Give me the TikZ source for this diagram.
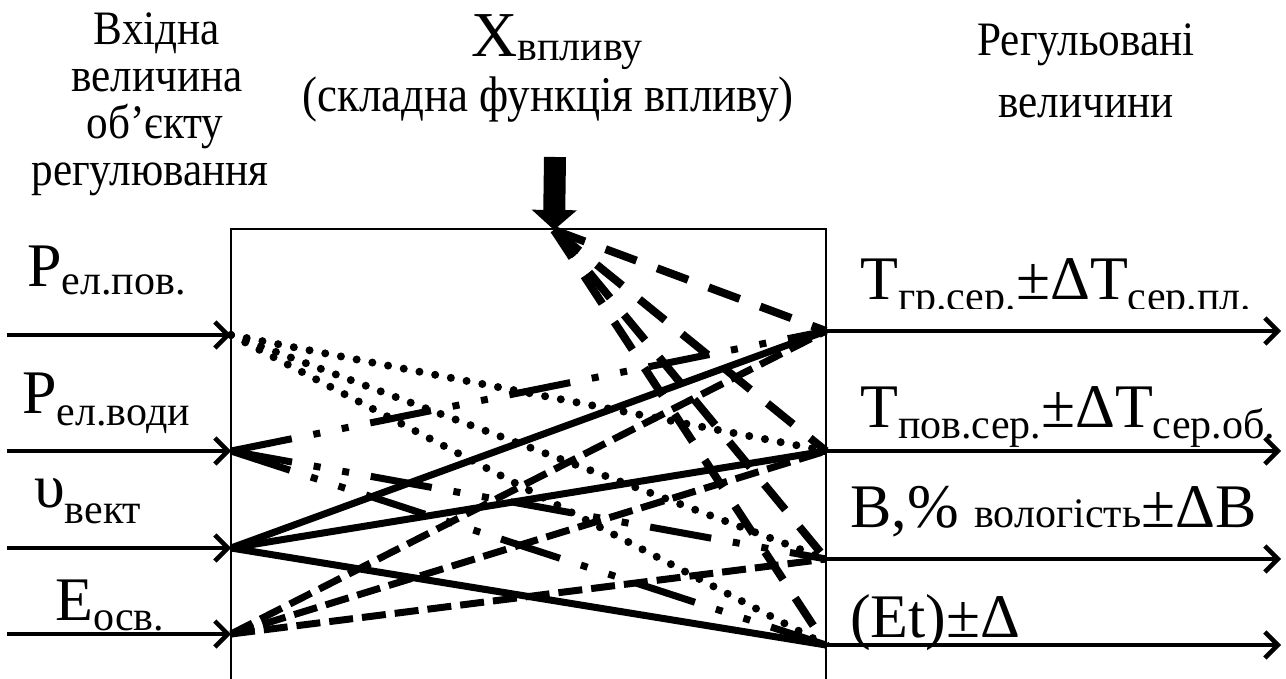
\documentclass[tikz,border=0pt]{standalone}
\usepackage{fontspec}
\setmainfont{Liberation Serif}
\newfontfamily\condf[FakeStretch=0.9]{Liberation Serif}
\usetikzlibrary{arrows.meta}
\newcommand\mybig{\fontsize{62}{62}\selectfont}
\newcommand\mysub{\fontsize{42}{42}\selectfont}
\newcommand\myhead{\condf\fontsize{48}{52}\selectfont}
\begin{document}
\begin{tikzpicture}[x=1pt,y=-1pt,
  boxl/.style={line width=2.5pt},
  ioarrow/.style={line width=4.5pt,-{Straight Barb[length=13pt,width=26pt,line width=4.5pt]}},
  bigarrow/.style={line width=22pt,-{Triangle[length=20pt,width=44pt]}},
  solidl/.style={line width=7pt},
  dotl/.style={line width=8pt,line cap=round,dash pattern=on 0pt off 16pt},
  dashl/.style={line width=7pt,dash pattern=on 24pt off 9pt},
  ldashl/.style={line width=8pt,dash pattern=on 33pt off 22pt},
  ddotl/.style={line width=7pt,dash pattern=on 62pt off 22pt on 7pt off 22pt on 7pt off 22pt},
  lbl/.style={inner sep=0pt,anchor=base west,font=\mybig},
  head/.style={inner sep=0pt,anchor=base,font=\myhead}]
\useasboundingbox (0,0) rectangle (1286,679);

% endpoints
\coordinate (i1) at (231,335);
\coordinate (i2) at (231,451);
\coordinate (i3) at (231,548);
\coordinate (i4) at (231,634);
\coordinate (o1) at (826,331);
\coordinate (o2) at (826,451);
\coordinate (o3) at (826,559);
\coordinate (o4) at (826,645);
\coordinate (s1) at (7,335);
\coordinate (s2) at (7,451);
\coordinate (s3) at (7,548);
\coordinate (s4) at (7,634);
\coordinate (e1) at (1281,331);
\coordinate (e2) at (1281,451);
\coordinate (e3) at (1281,559);
\coordinate (e4) at (1281,645);
\coordinate (xi) at (554,230);
\coordinate (xt) at (555,157);
\coordinate (bl) at (231,679);
\coordinate (btl) at (231,229);
\coordinate (btr) at (826,229);
\coordinate (br) at (826,679);

% object box (open at bottom)
\draw[boxl] (bl) -- (btl) -- (btr) -- (br);

% influence lines
\draw[dotl] (i1) -- (o2);
\draw[dotl] (i1) -- (o3);
\draw[dotl] (i1) -- (o4);
\draw[ddotl] (i2) -- (o1);
\draw[ddotl] (i2) -- (o3);
\draw[ddotl] (i2) -- (o4);
\draw[solidl] (i3) -- (o1);
\draw[solidl] (i3) -- (o2);
\draw[solidl] (i3) -- (o4);
\draw[dashl] (i4) -- (o1);
\draw[dashl] (i4) -- (o2);
\draw[dashl] (i4) -- (o3);
\draw[ldashl] (xi) -- (o1);
\draw[ldashl] (xi) -- (o2);
\draw[ldashl] (xi) -- (o3);
\draw[ldashl] (xi) -- (o4);

% input / output arrows
\draw[ioarrow] (s1) -- (i1);
\draw[ioarrow] (s2) -- (i2);
\draw[ioarrow] (s3) -- (i3);
\draw[ioarrow] (s4) -- (i4);
\draw[ioarrow] (o1) -- (e1);
\draw[ioarrow] (o2) -- (e2);
\draw[ioarrow] (o3) -- (e3);
\draw[ioarrow] (o4) -- (e4);
\draw[bigarrow] (xt) -- (xi);

% headers
\node[head] (h1) at (157,45) {Вхідна};
\node[head] (h2) at (157,92) {величина};
\node[head] (h3) at (155,139) {об’єкту};
\node[head] (h4) at (150,186) {регулювання};
\node[head] (r1) at (1086,56) {Регульовані};
\node[head] (r2) at (1086,118) {величини};
\node[inner sep=0pt,anchor=base] (xl) at (557,57) {{\fontsize{64}{64}\selectfont X}\raisebox{-4pt}{\mysub впливу}};
\node[head,font=\condf\fontsize{50}{54}\selectfont] (xf) at (548,112) {(складна функція впливу)};

% input labels
\node[lbl] (l1) at (27,287) {P\raisebox{-8pt}{\mysub ел.пов.}};
\node[lbl] (l2) at (22,413) {P\raisebox{-12pt}{\mysub ел.води}};
\node[lbl] (l3) at (34,507) {υ\raisebox{-16pt}{\mysub вект}};
\node[lbl] (l4) at (55,620) {E\raisebox{-10pt}{\mysub осв.}};

% output labels
\begin{scope}
\clip (830,200) rectangle (1286,309);
\node[lbl] (q1) at (860,300) {T\raisebox{-11pt}{\mysub гр.сер.}±ΔT\raisebox{-11pt}{\mysub сер.пл.}};
\end{scope}
\node[lbl] (q2) at (860,427) {T\raisebox{-11pt}{\mysub пов.сер.}±ΔT\raisebox{-11pt}{\mysub сер.об.}};
\node[lbl] (q3) at (850,527) {B,\% {\mysub вологість}±ΔB};
\node[lbl] (q4) at (850,637) {(Et)±Δ};
\end{tikzpicture}
\end{document}
